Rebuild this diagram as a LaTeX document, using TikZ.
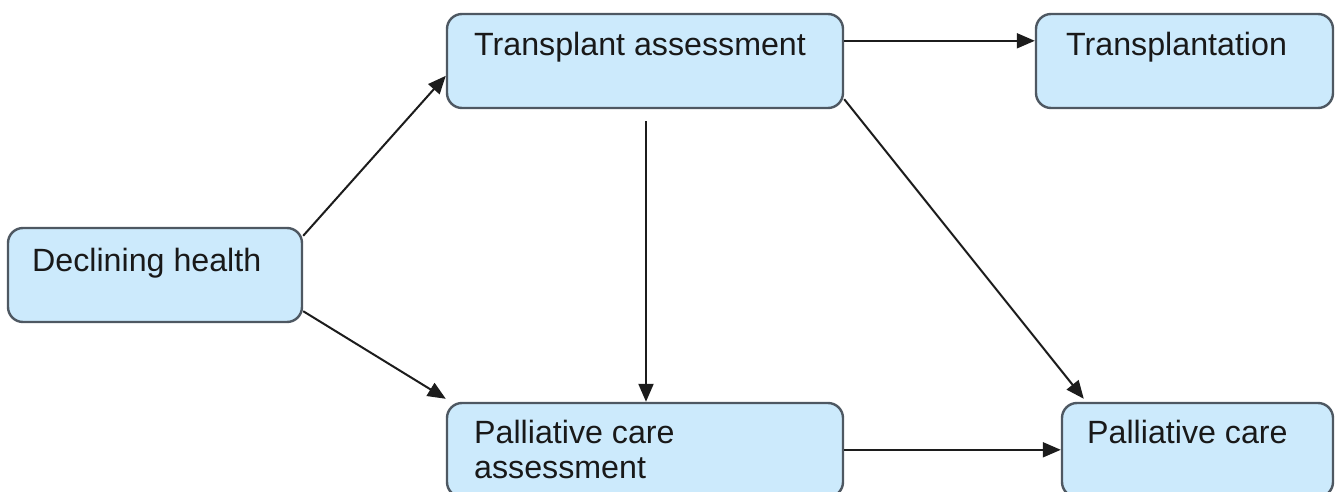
\documentclass[tikz,border=0pt]{standalone}
\usepackage{fontspec}
\setmainfont{Liberation Sans}
\usetikzlibrary{calc,arrows.meta}
\definecolor{boxfill}{RGB}{204,234,252}
\definecolor{boxline}{RGB}{78,88,98}
\definecolor{arrowline}{RGB}{28,28,28}
\tikzset{
  stagebox/.style={draw=boxline, fill=boxfill, line width=1.2pt,
    rounded corners=7.5pt, inner sep=0pt},
  stagetext/.style={inner sep=0pt, anchor=base west, align=left,
    font=\fontsize{16.1pt}{17.5pt}\selectfont, text=black!90},
  flow/.style={draw=arrowline, line width=1pt,
    -{Triangle[length=9pt,width=7.5pt]}}
}
\begin{document}
\begin{tikzpicture}[x=0.5pt,y=-0.5pt]
  \useasboundingbox (0,0) rectangle (1340,492);
  \clip (0,0) rectangle (1340,492);

  % boxes (coordinates in pixel units, y downwards)
  \node[stagebox, minimum width=147pt, minimum height=47pt]
    (dh) at (155,275) {};
  \node[stagebox, minimum width=198pt, minimum height=47pt]
    (ta) at (645,61) {};
  \node[stagebox, minimum width=148.5pt, minimum height=47pt]
    (tr) at (1184.5,61) {};
  \node[stagebox, minimum width=198pt, minimum height=47pt]
    (pca) at (645,450) {};
  \node[stagebox, minimum width=135.5pt, minimum height=47pt]
    (pc) at (1197.5,450) {};

  % labels, set at the upper left of each box
  % (a two-line label is anchored at the baseline of its last line)
  \node[stagetext] (dht)  at ($(dh.north west)+(25,45)$)  {Declining health};
  \node[stagetext] (tat)  at ($(ta.north west)+(28,43)$)  {Transplant assessment};
  \node[stagetext] (trt)  at ($(tr.north west)+(31,43)$)  {Transplantation};
  \node[stagetext] (pcat) at ($(pca.north west)+(28,77)$) {Palliative care\\assessment};
  \node[stagetext] (pct)  at ($(pc.north west)+(26,42)$)  {Palliative care};

  % free start of the vertical connector, just below the box
  \coordinate (tadown) at ($(ta.south)+(1,12)$);

  % connectors
  \draw[flow] ($(dh.north east)+(0,9)$) -- ($(ta.north west)+(0,63)$);
  \draw[flow] ($(dh.south east)+(0,-12)$) -- ($(pca.north west)+(0,-3)$);
  \draw[flow] (tadown) -- (tadown |- pca.north);
  \draw[flow] ($(ta.north east)+(0,28)$) -- ($(tr.north west)+(0,28)$);
  \draw[flow] ($(ta.south east)+(0,-10)$) -- ($(pc.north west)+(23,-3)$);
  \draw[flow] ($(pca.north east)+(0,48)$) -- ($(pc.north west)+(0,48)$);
\end{tikzpicture}
\end{document}
